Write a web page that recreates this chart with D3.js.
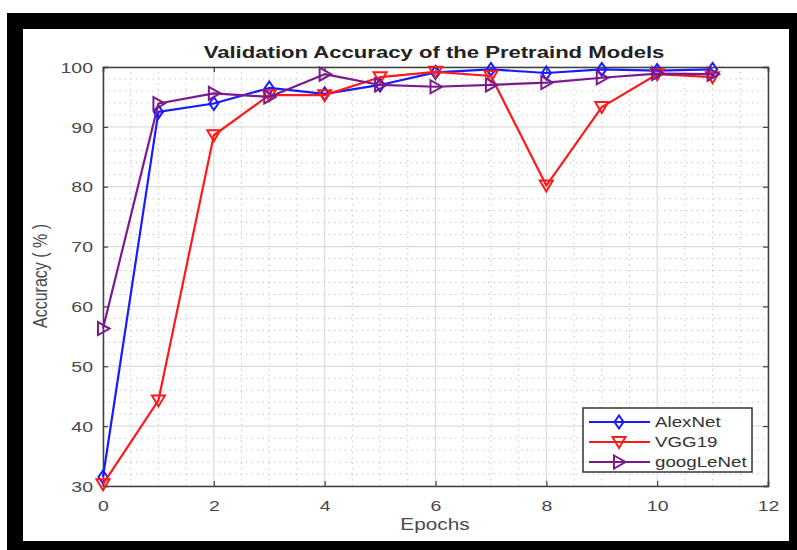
<!DOCTYPE html>
<html>
<head>
<meta charset="utf-8">
<title>Validation Accuracy</title>
<script src="https://cdn.jsdelivr.net/npm/d3@7"></script>
<style>
  body { margin: 0; background: #fff; }
  svg { display: block; font-family: "Liberation Sans", Arial, sans-serif; }
</style>
</head>
<body>
<script>
// values
const epochs = [0, 1, 2, 3, 4, 5, 6, 7, 8, 9, 10, 11];
const alexNet = [31.5, 92.5, 93.9, 96.5, 95.5, 97.0, 99.1, 99.6, 99.0, 99.6, 99.4, 99.6];
const vgg19 = [30.3, 44.3, 88.6, 95.3, 95.3, 98.3, 99.2, 98.5, 80.2, 93.3, 98.8, 98.3];
const googLeNet = [56.3, 93.9, 95.6, 95.0, 98.8, 97.0, 96.7, 97.0, 97.4, 98.2, 98.9, 98.8];
const xTicks = [0, 2, 4, 6, 8, 10, 12];
const yTicks = [30, 40, 50, 60, 70, 80, 90, 100];

const width = 797;
const height = 550;
const stretch = 1.3; // the source picture is squeezed in height, text comes out wide

const svg = d3.select("body").append("svg")
    .attr("width", width)
    .attr("height", height);

// black frame round the figure
svg.append("rect").attr("x", 7).attr("y", 13).attr("width", 790).attr("height", 537).attr("fill", "#000");
svg.append("rect").attr("x", 23).attr("y", 29).attr("width", 766).attr("height", 512).attr("fill", "#fff");

const x = d3.scaleLinear().domain([0, 12]).range([103, 768]);
const y = d3.scaleLinear().domain([30, 100]).range([486, 67]);

const plot = svg.append("g");

// minor grid (dotted)
plot.selectAll(".xminor")
  .data(d3.range(0, 12.01, 0.5).filter(v => v % 2 !== 0))
  .join("line")
    .attr("x1", d => x(d)).attr("x2", d => x(d))
    .attr("y1", y(30)).attr("y2", y(100))
    .attr("stroke", "#c8c8c8").attr("stroke-width", 1).attr("stroke-dasharray", "1.5,4");
plot.selectAll(".yminor")
  .data(d3.range(30, 100.01, 2).filter(v => v % 10 !== 0))
  .join("line")
    .attr("x1", x(0)).attr("x2", x(12))
    .attr("y1", d => y(d)).attr("y2", d => y(d))
    .attr("stroke", "#c8c8c8").attr("stroke-width", 1).attr("stroke-dasharray", "1.5,4");

// major grid
plot.selectAll(".xmajor")
  .data(xTicks)
  .join("line")
    .attr("x1", d => x(d)).attr("x2", d => x(d))
    .attr("y1", y(30)).attr("y2", y(100))
    .attr("stroke", "#dcdcdc").attr("stroke-width", 1.2);
plot.selectAll(".ymajor")
  .data(yTicks)
  .join("line")
    .attr("x1", x(0)).attr("x2", x(12))
    .attr("y1", d => y(d)).attr("y2", d => y(d))
    .attr("stroke", "#dcdcdc").attr("stroke-width", 1.2);

// axes: ticks point inward, box on all sides
const axisColor = "#404040";
const axBottom = svg.append("g").attr("transform", `translate(0,${y(30)})`)
  .call(d3.axisBottom(x).tickValues(xTicks).tickSize(-5).tickFormat(d3.format("d")));
const axLeft = svg.append("g").attr("transform", `translate(${x(0)},0)`)
  .call(d3.axisLeft(y).tickValues(yTicks).tickSize(-5).tickFormat(d3.format("d")));
const axTop = svg.append("g").attr("transform", `translate(0,${y(100)})`)
  .call(d3.axisTop(x).tickValues(xTicks).tickSize(-5).tickFormat(""));
const axRight = svg.append("g").attr("transform", `translate(${x(12)},0)`)
  .call(d3.axisRight(y).tickValues(yTicks).tickSize(-5).tickFormat(""));

[axBottom, axLeft, axTop, axRight].forEach(g => {
  g.select(".domain").attr("stroke", axisColor).attr("stroke-width", 1.5);
  g.selectAll(".tick line").attr("stroke", axisColor).attr("stroke-width", 1.2);
  g.selectAll(".tick text")
    .attr("fill", "#4a4a4a")
    .style("font-size", "15px")
    .style("font-family", "Liberation Sans, Arial, sans-serif");
});
axBottom.selectAll(".tick text")
  .attr("x", 0).attr("y", 0).attr("dy", null)
  .attr("transform", `translate(0,25) scale(${stretch},1)`);
axLeft.selectAll(".tick text")
  .attr("x", 0).attr("dy", "0.35em")
  .attr("transform", `translate(-10,0) scale(${stretch},1)`);

// series
const series = [
  { name: "AlexNet", values: alexNet, color: "#1a1aff", marker: "diamond" },
  { name: "VGG19", values: vgg19, color: "#ff1a1a", marker: "down" },
  { name: "googLeNet", values: googLeNet, color: "#7a1a8c", marker: "right" }
];

function markerPath(type) {
  if (type === "diamond") return "M0,-6.5L4.5,0L0,6.5L-4.5,0Z";
  if (type === "down") return "M-6.5,-5L6.5,-5L0,6Z";
  return "M-5,-6.5L6.5,0L-5,6.5Z";
}

const line = d3.line()
  .x((d, i) => x(epochs[i]))
  .y(d => y(d));

series.forEach(s => {
  const g = svg.append("g");
  g.append("path")
    .datum(s.values)
    .attr("d", line)
    .attr("fill", "none")
    .attr("stroke", s.color)
    .attr("stroke-width", 2.2)
    .attr("stroke-linejoin", "round");
  g.selectAll("path.mk")
    .data(s.values)
    .join("path")
      .attr("class", "mk")
      .attr("d", markerPath(s.marker))
      .attr("transform", (d, i) => `translate(${x(epochs[i])},${y(d)})`)
      .attr("fill", "none")
      .attr("stroke", s.color)
      .attr("stroke-width", 2);
});

// title and labels
svg.append("text")
  .attr("transform", `translate(434,58) scale(${stretch},1)`)
  .attr("text-anchor", "middle")
  .attr("font-weight", "bold")
  .attr("font-size", 17)
  .attr("fill", "#222")
  .text("Validation Accuracy of the Pretraind Models");

svg.append("text")
  .attr("transform", `translate(435,530) scale(${stretch},1)`)
  .attr("text-anchor", "middle")
  .attr("font-size", 16)
  .attr("fill", "#4a4a4a")
  .text("Epochs");

svg.append("text")
  .attr("transform", `translate(47,276) scale(${stretch},1) rotate(-90)`)
  .attr("text-anchor", "middle")
  .attr("font-size", 16)
  .attr("fill", "#4a4a4a")
  .text("Accuracy ( % )");

// legend
const legend = svg.append("g").attr("transform", "translate(583,408)");
legend.append("rect")
  .attr("width", 169).attr("height", 64)
  .attr("fill", "#fff")
  .attr("stroke", "#333").attr("stroke-width", 1.5);
series.forEach((s, i) => {
  const row = legend.append("g").attr("transform", `translate(0,${14 + i * 20})`);
  row.append("line")
    .attr("x1", 6).attr("x2", 67)
    .attr("stroke", s.color).attr("stroke-width", 2.2);
  row.append("path")
    .attr("d", markerPath(s.marker))
    .attr("transform", "translate(36,0)")
    .attr("fill", "none").attr("stroke", s.color).attr("stroke-width", 2);
  row.append("text")
    .attr("transform", `translate(72,5) scale(1.25,1)`)
    .attr("font-size", 15)
    .attr("fill", "#333")
    .text(s.name);
});
</script>
</body>
</html>
